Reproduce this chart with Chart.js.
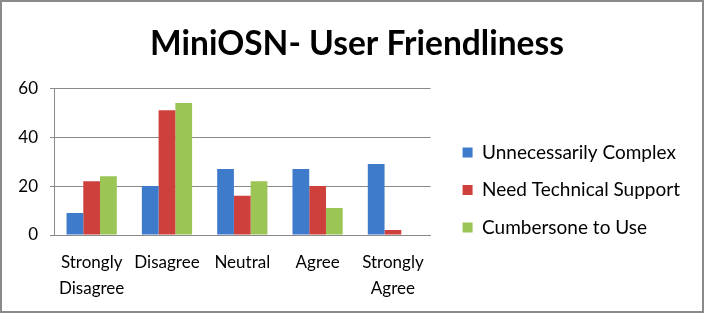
<!DOCTYPE html>
<html lang="en">
<head>
  <meta charset="UTF-8">
  <title>MiniOSN- User Friendliness</title>
  <script src="https://cdn.jsdelivr.net/npm/chart.js"></script>
  <style>
    body {
      margin: 0;
      padding: 0;
      background: #fff;
    }
    .frame {
      width: 700px;
      height: 309px;
      border: 2px solid #8a8a8a;
      position: relative;
    }
  </style>
</head>
<body>
  <div class="frame">
    <canvas id="friendlyChart" width="700" height="309"></canvas>
  </div>

  <script>
    const categories = [["Strongly", "Disagree"], "Disagree", "Neutral", "Agree", ["Strongly", "Agree"]];
    const unnecessarilyComplex = [9, 20, 27, 27, 29];
    const needTechSupport = [22, 51, 16, 20, 2];
    const cumbersomeToUse = [24, 54, 22, 11, 0];
    const yTicks = [0, 20, 40, 60];

    const fontFamily = "Lato, 'Open Sans', sans-serif";
    const gridGrey = "#8a8a8a";

    // in the original the legend sits low and the title a bit right of centre
    const boxNudge = {
      id: "boxNudge",
      afterLayout(chart) {
        chart.legend.top += 22;
        chart.legend.bottom += 22;
        chart.titleBlock.left += 11;
        chart.titleBlock.right += 11;
      },
    };

    const ctx = document.getElementById("friendlyChart").getContext("2d");

    new Chart(ctx, {
      type: "bar",
      data: {
        labels: categories,
        datasets: [
          { label: "Unnecessarily Complex", data: unnecessarilyComplex, backgroundColor: "#3f7bcb" },
          { label: "Need Technical Support", data: needTechSupport, backgroundColor: "#cd403c" },
          { label: "Cumbersone to Use", data: cumbersomeToUse, backgroundColor: "#9bc555" },
        ],
      },
      plugins: [boxNudge],
      options: {
        responsive: false,
        animation: false,
        layout: { padding: { left: 0, right: 12, top: 18, bottom: -5 } },
        datasets: {
          bar: { categoryPercentage: 0.667, barPercentage: 1.0 },
        },
        plugins: {
          title: {
            display: true,
            text: "MiniOSN- User Friendliness",
            color: "#000",
            font: { family: fontFamily, size: 33.5, weight: "bold" },
            padding: { top: 4, bottom: 24 },
          },
          legend: {
            position: "right",
            maxWidth: 300,
            labels: {
              boxWidth: 10,
              boxHeight: 10,
              padding: 18.5,
              color: "#000",
              font: { family: fontFamily, size: 19 },
            },
          },
          tooltip: { enabled: false },
        },
        scales: {
          x: {
            grid: { display: false, drawTicks: false },
            border: { color: gridGrey, width: 1 },
            ticks: {
              color: "#000",
              maxRotation: 0,
              autoSkip: false,
              padding: 15,
              font: { family: fontFamily, size: 17, lineHeight: 1.5 },
            },
          },
          y: {
            min: 0,
            max: 60,
            afterBuildTicks: (scale) => {
              scale.ticks = yTicks.map((v) => ({ value: v }));
            },
            afterFit: (scale) => {
              scale.width = 52;
            },
            grid: { color: gridGrey, tickLength: 4, drawTicks: true },
            border: { color: gridGrey, width: 1 },
            ticks: {
              color: "#000",
              padding: 12,
              font: { family: fontFamily, size: 17 },
            },
          },
          gap: {
            position: "right",
            display: true,
            grid: { display: false },
            border: { display: false },
            ticks: { display: false },
            afterFit: (scale) => {
              scale.width = 13.5;
            },
          },
        },
      },
    });
  </script>
</body>
</html>
